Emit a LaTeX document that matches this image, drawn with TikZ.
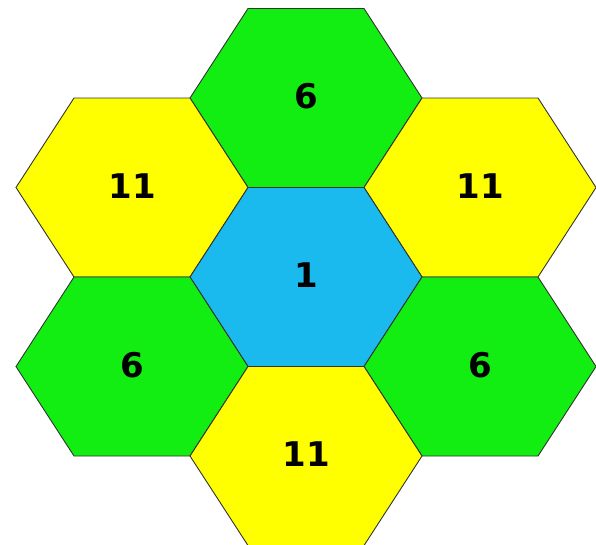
\documentclass[tikz,border=0pt]{standalone}
\usepackage{fontspec}
\setmainfont{DejaVu Sans}
\definecolor{hexyellow}{RGB}{255,255,0}
\definecolor{hexgreen}{RGB}{18,238,18}
\definecolor{hexblue}{RGB}{27,186,238}
\newcommand\hexcell[5]{% x, y, fill colour, node name, label
  \filldraw[hexline, fill=#3] (#1-116,#2) -- (#1-58,#2-89.5) -- (#1+58,#2-89.5) -- (#1+116,#2) -- (#1+58,#2+89.5) -- (#1-58,#2+89.5) -- cycle;
  \node[hexnum] (#4) at (#1,#2-1.5) {#5};
}
\begin{document}
\begin{tikzpicture}[x=1pt,y=-1pt,
  hexline/.style={draw=black!80, line width=0.9pt, line join=miter},
  hexnum/.style={font=\fontsize{34}{34}\selectfont\bfseries, text=black, inner sep=0pt}]
\fill[white] (0,0) rectangle (596,544);
\useasboundingbox (0,0) rectangle (596,544);
\begin{scope}
\clip (0,0) rectangle (596,544);
\hexcell{306}{98}{hexgreen}{top}{6}
\hexcell{132}{187.5}{hexyellow}{upleft}{11}
\hexcell{480}{187.5}{hexyellow}{upright}{11}
\hexcell{306}{277}{hexblue}{center}{1}
\hexcell{132}{366.5}{hexgreen}{lowleft}{6}
\hexcell{480}{366.5}{hexgreen}{lowright}{6}
\hexcell{306}{456}{hexyellow}{bottom}{11}
\end{scope}
\end{tikzpicture}
\end{document}
